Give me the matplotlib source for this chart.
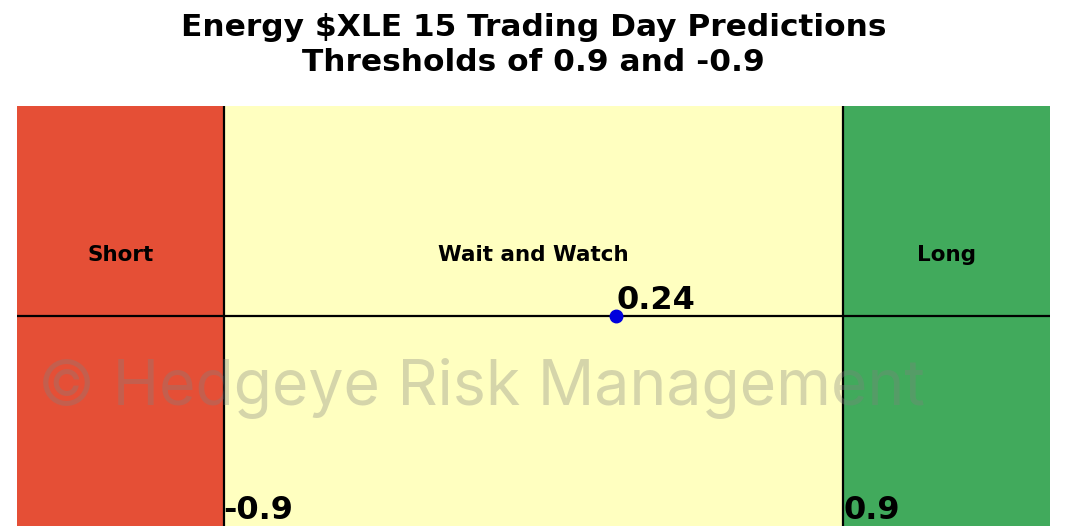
import matplotlib.pyplot as plt
from matplotlib.patches import Rectangle

# zones and thresholds
zone_labels = ["Short", "Wait and Watch", "Long"]
zone_bounds = [(-1.5, -0.9), (-0.9, 0.9), (0.9, 1.5)]
zone_colors = ["#E54F36", "#FFFFC0", "#41AA5C"]
lower_threshold = -0.9
upper_threshold = 0.9
prediction = 0.24

fig = plt.figure(figsize=(10.89, 5.28), dpi=100)
ax = fig.add_axes([17 / 1089, 2 / 528, (1050 - 17) / 1089, (526 - 106) / 528])
ax.set_xlim(-1.5, 1.5)
ax.set_ylim(-1, 1)
ax.axis("off")

for (x0, x1), color, label in zip(zone_bounds, zone_colors, zone_labels):
    ax.add_patch(Rectangle((x0, -1), x1 - x0, 2, color=color, zorder=0))
    ax.text((x0 + x1) / 2, 0.29, label, ha="center", va="center",
            fontsize=15.5, fontweight="bold")

ax.axhline(0, color="black", lw=1.6, zorder=2)
ax.axvline(lower_threshold, color="black", lw=1.6, zorder=2)
ax.axvline(upper_threshold, color="black", lw=1.6, zorder=2)

ax.plot(prediction, 0, "o", color="#0000DD", markersize=9, zorder=3)
ax.text(prediction, 0.0, f"{prediction:.2f}", ha="left", va="bottom",
        fontsize=23, fontweight="bold")

ax.text(lower_threshold, -1, f"{lower_threshold}", ha="left", va="bottom",
        fontsize=23, fontweight="bold")
ax.text(upper_threshold, -1, f"{upper_threshold}", ha="left", va="bottom",
        fontsize=23, fontweight="bold")

ax.text(-1.44, -0.34, "© Hedgeye Risk Management", ha="left", va="center",
        fontsize=45, family="Inter", fontweight="normal", color="gray",
        alpha=0.33, zorder=4)

fig.text(0.49, 0.975,
         "Energy $XLE 15 Trading Day Predictions\nThresholds of 0.9 and -0.9",
         ha="center", va="top", fontsize=22.5, fontweight="bold",
         linespacing=1.25)

fig.savefig("out.png", dpi=100)
